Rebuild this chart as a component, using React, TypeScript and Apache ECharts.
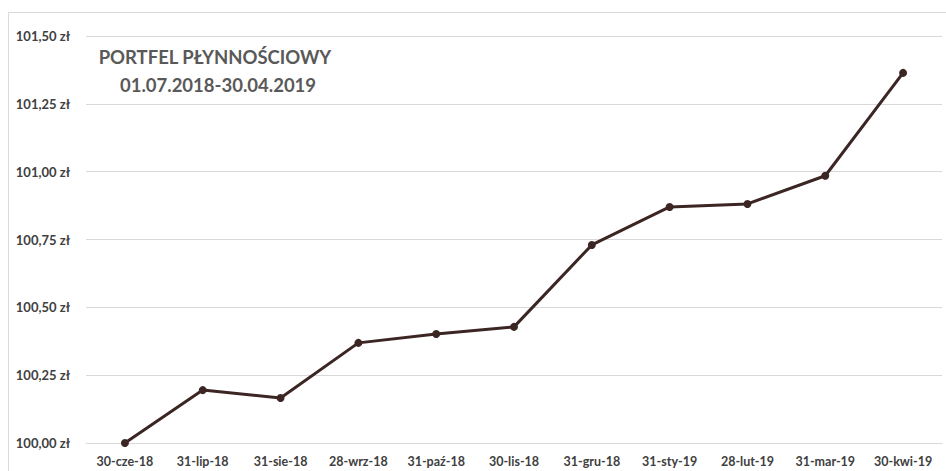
import React, { useEffect, useRef } from "react";
import * as echarts from "echarts";

const categories = [
  "30-cze-18", "31-lip-18", "31-sie-18", "28-wrz-18", "31-paź-18", "30-lis-18",
  "31-gru-18", "31-sty-19", "28-lut-19", "31-mar-19", "30-kwi-19",
];
const values = [100.0, 100.195, 100.166, 100.369, 100.402, 100.428, 100.73, 100.87, 100.881, 100.985, 101.364];
const titleLines = ["PORTFEL PŁYNNOŚCIOWY", "01.07.2018-30.04.2019"];

const FONT = "Lato, 'Noto Sans', sans-serif";

export default function App() {
  const ref = useRef<HTMLDivElement>(null);
  useEffect(() => {
    if (!ref.current) return;
    const chart = echarts.init(ref.current, null, { renderer: "svg" });
    chart.setOption({
      animation: false,
      backgroundColor: "#ffffff",
      grid: { left: 86, right: 4, top: 36, bottom: 28, containLabel: false },
      graphic: [
        {
          type: "rect",
          shape: { x: 8.5, y: 12.5, width: 950, height: 470 },
          style: { fill: "none", stroke: "#d9d9d9", lineWidth: 1 },
          silent: true,
        },
        {
          type: "text",
          x: 215,
          y: 57,
          style: {
            text: titleLines[0],
            fill: "#595959",
            font: `bold 18.5px ${FONT}`,
            align: "center",
            verticalAlign: "middle",
          },
        },
        {
          type: "text",
          x: 218,
          y: 85,
          style: {
            text: titleLines[1],
            fill: "#595959",
            font: `bold 18.5px ${FONT}`,
            align: "center",
            verticalAlign: "middle",
          },
        },
      ],
      xAxis: {
        type: "category",
        data: categories,
        boundaryGap: true,
        axisLine: { lineStyle: { color: "#d9d9d9", width: 1 } },
        axisTick: { show: false },
        axisLabel: {
          color: "#404040",
          fontFamily: FONT,
          fontWeight: "bold",
          fontSize: 12.5,
          margin: 12,
          interval: 0,
        },
      },
      yAxis: {
        type: "value",
        min: 100,
        max: 101.5,
        interval: 0.25,
        axisLine: { show: false },
        axisTick: { show: false },
        splitLine: { lineStyle: { color: "#d9d9d9", width: 1 } },
        axisLabel: {
          color: "#404040",
          fontFamily: FONT,
          fontWeight: "bold",
          fontSize: 13,
          margin: 16,
          formatter: (v: number) => v.toFixed(2).replace(".", ",") + " zł",
        },
      },
      series: [
        {
          type: "line",
          data: values,
          symbol: "circle",
          symbolSize: 8,
          lineStyle: { color: "#3b2624", width: 3 },
          itemStyle: { color: "#3b2624" },
        },
      ],
    });
    return () => chart.dispose();
  }, []);
  return (
    <div
      ref={ref}
      style={{ position: "fixed", left: 0, top: 0, width: 946, height: 471 }}
    />
  );
}
